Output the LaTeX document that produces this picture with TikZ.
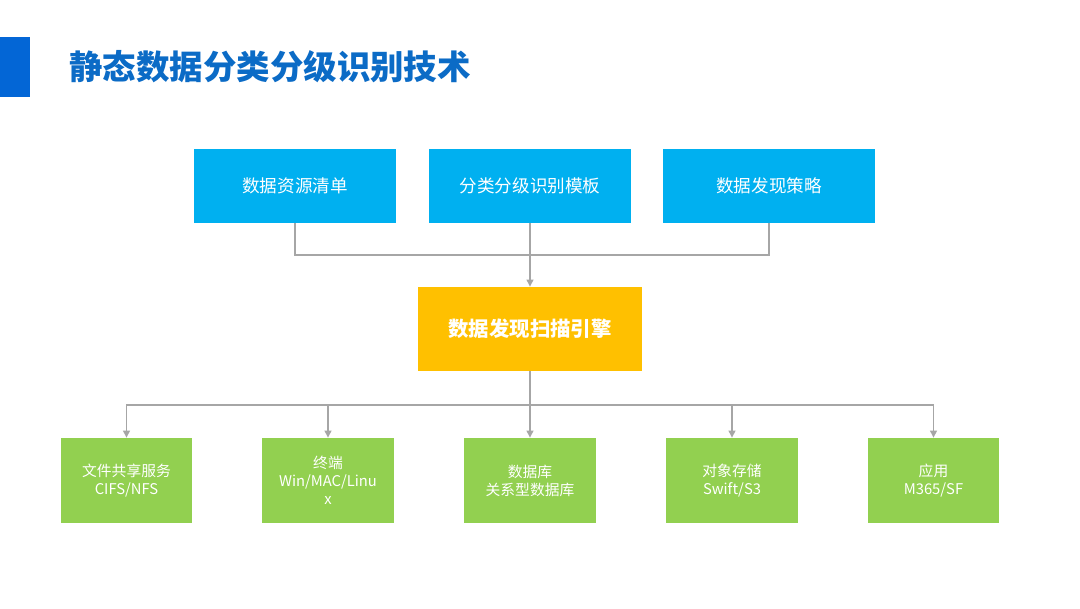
\documentclass[tikz,border=0pt]{standalone}
\usepackage{fontspec}
\usepackage{xcolor}
\usepackage{tikz}
\usetikzlibrary{arrows.meta}
\setmainfont{Noto Sans CJK SC}
\definecolor{accent}{HTML}{0366D6}
\definecolor{titleblue}{HTML}{0B6BC6}
\definecolor{srcblue}{HTML}{00B0F0}
\definecolor{enggold}{HTML}{FFC000}
\definecolor{tgtgreen}{HTML}{92D050}
\definecolor{wire}{HTML}{A6A6A6}
\tikzset{
  src/.style={fill=srcblue, text=white, minimum width=5.05cm, minimum height=1.85cm,
    inner sep=0pt, font=\fontsize{12.5}{15}\selectfont},
  eng/.style={fill=enggold, text=white, minimum width=5.6cm, minimum height=2.1cm,
    inner sep=0pt, font=\fontsize{14.5}{17}\selectfont\bfseries},
  tgt/.style={fill=tgtgreen, text=white, minimum width=3.275cm, minimum height=2.125cm,
    inner sep=0pt, align=center, font=\fontsize{10.5}{12.8}\selectfont},
  link/.style={draw=wire, line width=1.3pt},
  feed/.style={link, -{Triangle[length=1.8mm,width=1.7mm]}},
}

\begin{document}
\begin{tikzpicture}[x=0.025cm, y=-0.025cm]
  \useasboundingbox (0,0) rectangle (1080,608);
  \fill[white] (0,0) rectangle (1080,608);

  % title bar
  \fill[accent] (0,37) rectangle (30,97);
  \node[anchor=west, text=titleblue, font=\fontsize{23.8}{26}\selectfont\bfseries, inner sep=0pt]
    (title) at (69,67) {静态数据分类分级识别技术};

  % inputs
  \node[src] (s1) at (295,186) {数据资源清单};
  \node[src] (s2) at (530,186) {分类分级识别模板};
  \node[src, minimum width=5.3cm] (s3) at (769,186) {数据发现策略};

  % engine
  \node[eng] (engine) at (530,329) {数据发现扫描引擎};

  % targets
  \node[tgt] (t1) at (126.5,480.5) {文件共享服务\\CIFS/NFS};
  \node[tgt] (t2) at (328,480.5) {终端\\Win/MAC/Linu\\x};
  \node[tgt] (t3) at (530,480.5) {数据库\\关系型数据库};
  \node[tgt] (t4) at (732,480.5) {对象存储\\Swift/S3};
  \node[tgt] (t5) at (933.5,480.5) {应用\\M365/SF};

  \coordinate (jtop) at (530,255);
  \coordinate (jbot) at (530,405);

  \draw[link] (s1.south) |- (jtop);
  \draw[link] (s3.south) |- (jtop);
  \draw[feed] (s2.south) -- (engine.north);

  \draw[link] (engine.south) -- (jbot);
  \foreach \t in {t1,t2,t3,t4,t5}
    \draw[feed] (jbot) -| (\t.north);
\end{tikzpicture}
\end{document}
